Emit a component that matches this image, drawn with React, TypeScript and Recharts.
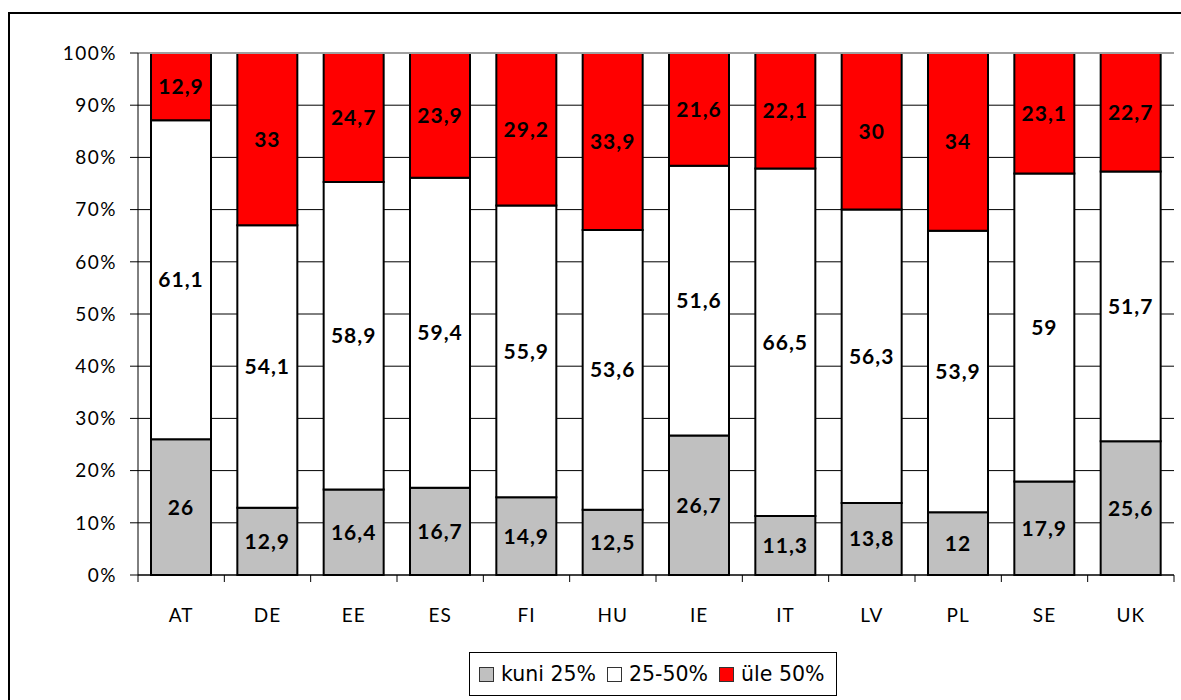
import React from 'react';
import { BarChart, Bar, XAxis, YAxis, CartesianGrid, Legend, LabelList, ReferenceLine } from 'recharts';

const categories = ['AT', 'DE', 'EE', 'ES', 'FI', 'HU', 'IE', 'IT', 'LV', 'PL', 'SE', 'UK'];
const upTo25 = [26, 12.9, 16.4, 16.7, 14.9, 12.5, 26.7, 11.3, 13.8, 12, 17.9, 25.6];
const from25to50 = [61.1, 54.1, 58.9, 59.4, 55.9, 53.6, 51.6, 66.5, 56.3, 53.9, 59, 51.7];
const over50 = [12.9, 33, 24.7, 23.9, 29.2, 33.9, 21.6, 22.1, 30, 34, 23.1, 22.7];
const yTicks = [0, 0.1, 0.2, 0.3, 0.4, 0.5, 0.6, 0.7, 0.8, 0.9, 1];
const seriesKeys = ['a', 'b', 'c'];
const seriesNames = ['kuni 25%', '25-50%', 'üle 50%'];
const seriesColors = ['#C0C0C0', '#FFFFFF', '#FF0000'];

const data = categories.map((name, i) => ({
  name,
  a: upTo25[i],
  b: from25to50[i],
  c: over50[i],
}));

const fmt = (v: any) => String(v).replace('.', ',');
const pct = (v: number) => `${Math.round(v * 100)}%`;

const XTick = (props: any) => {
  const { x, y, payload, index, visibleTicksCount } = props;
  const half = payload && typeof payload.offset === 'number' ? payload.offset : 1036 / 24;
  const last = index === (visibleTicksCount ?? categories.length) - 1;
  return (
    <g>
      <line x1={x - half} y1={y} x2={x - half} y2={y + 7} stroke="#000" strokeWidth={1} />
      {last && <line x1={x + half} y1={y} x2={x + half} y2={y + 7} stroke="#000" strokeWidth={1} />}
      <text
        x={x}
        y={y + 47}
        textAnchor="middle"
        fill="#000"
        fontSize={19}
        fontFamily="Lato"
        letterSpacing={1}
      >
        {payload.value}
      </text>
    </g>
  );
};

const LegendBox = () => (
  <div
    style={{
      boxSizing: 'border-box',
      width: 368,
      height: 44,
      border: '1px solid #000',
      display: 'flex',
      alignItems: 'center',
      paddingLeft: 9,
      fontFamily: '"DejaVu Sans"',
      fontSize: 20.5,
      color: '#000',
      background: '#fff',
    }}
  >
    {seriesNames.map((n, i) => (
      <React.Fragment key={n}>
        <span
          style={{
            display: 'inline-block',
            boxSizing: 'border-box',
            width: 15,
            height: 15,
            background: seriesColors[i],
            border: '1px solid #333',
            marginLeft: i === 0 ? 0 : 11,
            marginRight: 7,
          }}
        />
        <span style={{ whiteSpace: 'pre' }}>{n}</span>
      </React.Fragment>
    ))}
  </div>
);

export default function App() {
  return (
    <div
      style={{
        position: 'fixed',
        left: 0,
        top: 0,
        right: 0,
        bottom: 0,
        overflow: 'hidden',
        background: '#fff',
      }}
    >
      <div
        style={{
          position: 'absolute',
          left: 8,
          top: 12,
          width: 1190,
          height: 700,
          borderLeft: '2px solid #000',
          borderTop: '2px solid #000',
          background: '#fff',
        }}
      >
        <BarChart
          width={1170}
          height={690}
          data={data}
          stackOffset="expand"
          accessibilityLayer={false}
          style={{ outline: 'none' }}
          margin={{ top: 39, right: 6, left: 0, bottom: 8 }}
        >
          <CartesianGrid vertical={false} stroke="#000" strokeWidth={1} />
          <XAxis
            dataKey="name"
            height={77}
            tickSize={0}
            tickMargin={0}
            tickLine={false}
            interval={0}
            axisLine={{ stroke: '#000', strokeWidth: 1 }}
            tick={<XTick />}
          />
          <YAxis
            width={128}
            domain={[0, 1]}
            ticks={yTicks}
            tickFormatter={pct}
            tickSize={8}
            tickMargin={13}
            interval={0}
            axisLine={{ stroke: '#000', strokeWidth: 1 }}
            tickLine={{ stroke: '#000', strokeWidth: 1 }}
            tick={{ fill: '#000', fontSize: 19, fontFamily: 'Lato', letterSpacing: 1.5 }}
          />
          <YAxis
            yAxisId="r"
            orientation="right"
            width={0}
            type="number"
            domain={[0, 1]}
            tick={false}
            tickLine={false}
            axisLine={{ stroke: '#A0A0A0', strokeWidth: 2 }}
          />
          <ReferenceLine y={1} stroke="#A0A0A0" strokeWidth={2} />
          {seriesKeys.map((k, i) => (
            <Bar
              key={k}
              dataKey={k}
              name={seriesNames[i]}
              stackId="s"
              fill={seriesColors[i]}
              stroke="#000"
              strokeWidth={2}
              barSize={60}
              isAnimationActive={false}
            >
              <LabelList
                dataKey={k}
                position="center"
                formatter={fmt}
                fill="#000"
                fontSize={21}
                fontWeight="bold"
                fontFamily="Lato"
                letterSpacing={1}
              />
            </Bar>
          ))}
          <Legend
            verticalAlign="bottom"
            align="left"
            content={<LegendBox />}
            wrapperStyle={{ left: 459, bottom: 8, width: 368 }}
          />
        </BarChart>
      </div>
    </div>
  );
}
